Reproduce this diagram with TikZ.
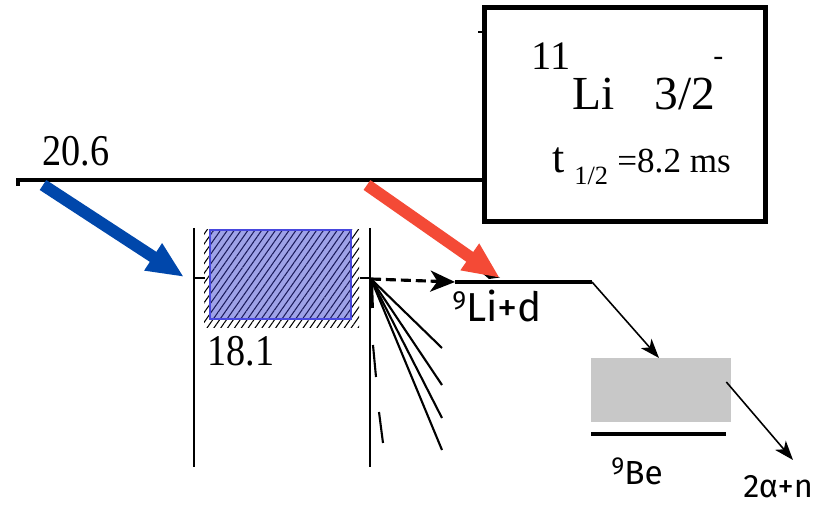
\documentclass[tikz,border=0pt]{standalone}
\usepackage{fontspec}
\setmainfont{Liberation Serif}
\newfontfamily\levelfont[FakeStretch=0.87]{Liberation Serif}
\newfontfamily\comicfont{Fira Sans}
\usetikzlibrary{arrows.meta,patterns.meta,calc,positioning}
\definecolor{bluearrow}{RGB}{0,71,171}
\definecolor{redarrow}{RGB}{244,74,54}
\definecolor{resfill}{RGB}{158,162,232}
\definecolor{resline}{RGB}{72,72,222}
\definecolor{reshatch}{RGB}{28,28,92}
\definecolor{begrey}{RGB}{200,200,200}
\newcommand{\sz}[1]{\fontsize{#1}{#1}\selectfont}
\newcommand{\nucl}[3]{\raisebox{0.3em}{\sz{#1}#2}#3}
\begin{document}
\begin{tikzpicture}[x=0.02cm,y=-0.02cm,
  levelline/.style={line width=2.3pt},
  wall/.style={line width=1.5pt},
  fanline/.style={line width=1.2pt},
  fat/.style={line width=6.8pt,-{Triangle[length=21pt,width=17pt]}},
  decayarrow/.style={line width=0.9pt,-{Stealth[length=11pt,width=8pt,inset=3pt]}},
  hatch/.style={pattern={Lines[angle=55,distance=3.2pt,line width=0.6pt]}},
  txt/.style={inner sep=0pt,anchor=base west}]
\useasboundingbox (0,0) rectangle (822,506);
% decay box
\node[draw,line width=2.8pt,minimum width=5.62cm,minimum height=4.28cm,inner sep=0pt] (box) at (625,114.5) {};
\node[txt] (iso) at (531,70) {\sz{23}11};
\node[txt] (li) at (572,110) {\sz{27}Li};
\node[txt] (spin) at (654,110) {\sz{27}3/2};
\node[txt] (par) at (713,66) {\sz{17}-};
\node[txt] (thalf) at (552,173) {\sz{25}t};
\node[txt] (half) at (574,185) {\sz{15}1/2};
\node[txt] (life) at (617,173) {\sz{20}=8.2 ms};
\draw[line width=1.7pt] (478,32) -- (box.west |- 0,32);
% 20.6 level
\coordinate (top0) at (18,180);
\draw[levelline] ([yshift=-0.12cm]top0) -- (top0) -- (top0 -| box.west);
\node[txt] (e206) at (42,166) {\levelfont\sz{25}20.6};
% 18.1 resonance
\draw[wall] (194,228) -- (194,467);
\draw[wall] (370,228) -- (370,467);
\draw[fanline] (194,278) -- (205,278);
\draw[fanline] (360,278) -- (370,278);
\path[hatch,pattern color=black] (204,230) rectangle (359,328);
\path[preaction={fill=resfill},hatch,pattern color=reshatch,draw=resline,line width=0.7pt] (210,230) rectangle (351,319);
\node[txt] (e181) at (207,366) {\levelfont\sz{25}18.1};
% feeding arrows
\coordinate (b0) at (43,185);
\coordinate (b1) at (184,277);
\draw[fat,bluearrow] (b0) -- (b1);
\fill (482,273) -- (500,277.5) -- (489,279) -- cycle;
\coordinate (r0) at (367,185);
\coordinate (r1) at (500,278);
\draw[fat,redarrow] (r0) -- (r1);
% fan of decays
\coordinate (hub) at (371,279);
\draw[line width=2.2pt] (hub) -- (372,308);
\foreach \y [count=\i] in {348,385,418,450} {
  \coordinate (fan\i) at (442,\y);
  \draw[fanline] (hub) -- (fan\i);
}
\draw[fanline] (373,345) -- (376,377);
\draw[fanline] (379,412) -- (383,443);
% 9Li+d channel
\coordinate (lid0) at (455,282);
\coordinate (lid1) at (592,282);
\draw[line width=1.8pt,dash pattern=on 5.7pt off 2.8pt,-{Stealth[length=14pt,width=12pt,inset=4pt]}] (hub) -- (lid0);
\draw[line width=1.8pt] (lid0) -- (lid1);
\node[txt] (lid) at (452,322) {\comicfont\sz{23}\nucl{15}{9}{Li+d}};
% 9Be
\node[fill=begrey,minimum width=2.8cm,minimum height=1.28cm,inner sep=0pt] (bebox) at (661,390) {};
\coordinate (behit) at (659,358);
\draw[decayarrow] (lid1) -- (behit);
\draw[line width=2.5pt] (591,434) -- (726,434);
\node[txt] (be) at (611,485) {\comicfont\sz{19}\nucl{14}{9}{Be}};
\coordinate (decay) at (793,460);
\draw[decayarrow] ($(bebox.east)+(-5,-8)$) -- (decay);
\node[txt] (an) at (743,498) {\comicfont\sz{18.5}2α+n};
\end{tikzpicture}
\end{document}
